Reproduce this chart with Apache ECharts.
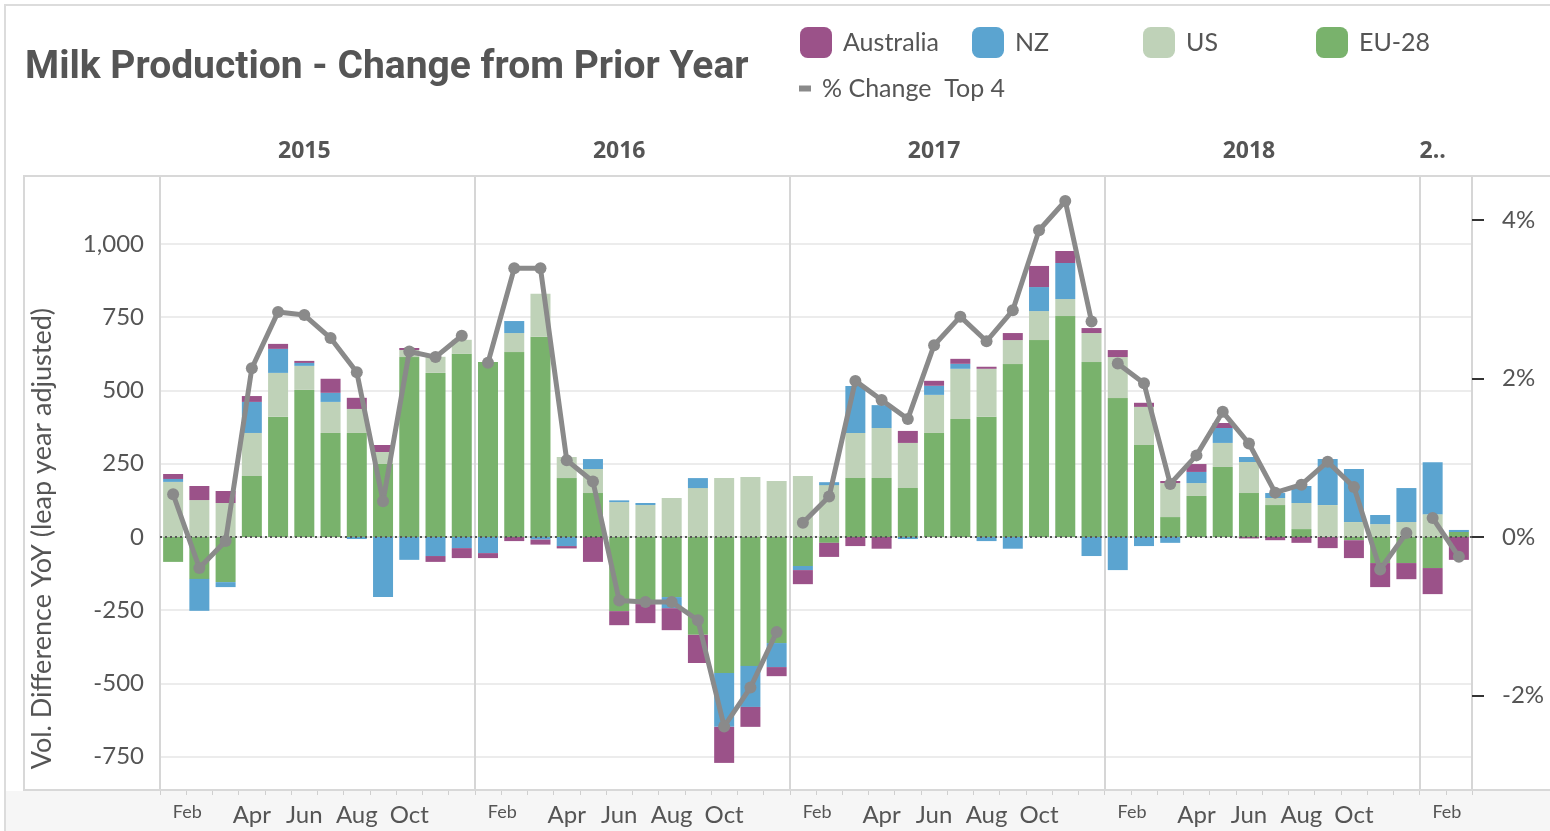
<!DOCTYPE html>
<html>
<head>
<meta charset="utf-8">
<title>Milk Production - Change from Prior Year</title>
<script src="https://cdn.jsdelivr.net/npm/echarts@6/dist/echarts.min.js"></script>
<style>
    html, body { margin: 0; padding: 0; background: #fff; }
    #chart-container { width: 1550px; height: 831px; }
</style>
</head>
<body>
<div id="chart-container"></div>
<script>
// months Jan 2015 .. Feb 2019
const years = ['2015', '2016', '2017', '2018', '2019'];
const monthNames = ['Jan', 'Feb', 'Mar', 'Apr', 'May', 'Jun', 'Jul', 'Aug', 'Sep', 'Oct', 'Nov', 'Dec'];
const categories = [];
years.forEach(y => {
    monthNames.forEach(m => {
        if (y === '2019' && categories.length >= 50) return;
        categories.push(m + ' ' + y);
    });
});
const yearHeaders = ['2015', '2016', '2017', '2018', '2..'];

// volume difference YoY, per region
const eu28 = [
    -85, -143, -154, 208, 410, 502, 355, 355, 249, 614, 560, 625,
    597, 631, 683, 201, 150, -253, -229, -205, -334, -464, -440, -362,
    -99, -20, 201, 201, 167, 355, 403, 410, 590, 672, 754, 597,
    474, 314, 68, 140, 239, 150, 109, 27, 0, -11, -89, -89,
    -106, 17
];
const us = [
    188, 126, 116, 147, 150, 82, 106, 82, 41, 24, 55, 48,
    0, 65, 147, 72, 82, 119, 109, 133, 167, 201, 205, 191,
    208, 177, 154, 171, 154, 130, 171, 164, 82, 99, 58, 99,
    140, 130, 116, 44, 82, 106, 24, 89, 109, 51, 44, 51,
    78, 0
];
const nz = [
    10, -109, -17, 106, 82, 10, 31, -7, -205, -78, -65, -38,
    -55, 41, -9, -31, 34, 6, 7, -38, 34, -184, -140, -82,
    -14, 10, 160, 78, -7, 31, 17, -14, -40, 82, 123, -65,
    -113, -31, -20, 38, 51, 17, 17, 58, 157, 181, 31, 116,
    177, 7
];
const australia = [
    17, 48, 41, 20, 17, 7, 48, 38, 24, 7, -20, -34,
    -17, -14, -17, -8, -85, -48, -65, -75, -96, -123, -68, -31,
    -48, -48, -31, -40, 41, 17, 17, 7, 24, 72, 41, 17,
    24, 14, 7, 27, 17, -5, -11, -20, -38, -61, -82, -55,
    -89, -78
];
// % change of the top 4, right axis
const pctChange = [
    0.54, -0.39, -0.05, 2.13, 2.84, 2.80, 2.51, 2.08, 0.45, 2.34, 2.27, 2.54,
    2.20, 3.39, 3.39, 0.97, 0.70, -0.80, -0.82, -0.82, -1.05, -2.39, -1.90, -1.20,
    0.18, 0.51, 1.97, 1.73, 1.49, 2.42, 2.78, 2.47, 2.86, 3.87, 4.24, 2.72,
    2.19, 1.94, 0.67, 1.03, 1.58, 1.18, 0.56, 0.66, 0.95, 0.63, -0.41, 0.05,
    0.24, -0.25
];

const leftTicks = [-750, -500, -250, 0, 250, 500, 750, 1000];
const rightTicks = [-2, 0, 2, 4];

const colors = {
    'Australia': '#9b5289',
    'NZ': '#5ba4d0',
    'US': '#bfd2b8',
    'EU-28': '#79b26c',
    line: '#8a8a8a'
};
const lineName = '% Change  Top 4';
const textColor = '#555';
const fontFamily = 'Lato, "Open Sans", sans-serif';

const chartContainer = document.getElementById('chart-container');
const myChart = echarts.init(chartContainer);

function barSeries(name, data) {
    return {
        name: name,
        type: 'bar',
        stack: 'vol',
        stackStrategy: 'samesign',
        barWidth: 20,
        data: data,
        itemStyle: { color: colors[name] },
        z: 3
    };
}

// one line per year, the line breaks at each year boundary
const lineSeries = years.map((y, yi) => ({
    name: lineName,
    type: 'line',
    yAxisIndex: 1,
    data: pctChange.map((v, i) => (Math.floor(i / 12) === yi ? v : '-')),
    symbol: 'circle',
    symbolSize: 12,
    lineStyle: { width: 5, color: colors.line },
    itemStyle: { color: colors.line },
    z: 10
}));

function legendAt(name, left, top, icon, w, h) {
    return {
        data: [name],
        left: left,
        top: top,
        padding: 0,
        icon: icon,
        itemWidth: w,
        itemHeight: h,
        selectedMode: false,
        textStyle: { fontSize: 25, color: textColor, fontFamily: fontFamily, padding: [0, 0, 0, 6] }
    };
}

const option = {
    backgroundColor: '#fff',
    animation: false,
    title: {
        text: 'Milk Production - Change from Prior Year',
        left: 20,
        top: 44,
        textStyle: { fontSize: 39, fontWeight: 'bold', color: textColor, fontFamily: 'Roboto, sans-serif' }
    },
    legend: [
        legendAt('Australia', 800, 27, 'roundRect', 32, 31),
        legendAt('NZ', 972, 27, 'roundRect', 32, 31),
        legendAt('US', 1143, 27, 'roundRect', 32, 31),
        legendAt('EU-28', 1316, 27, 'roundRect', 32, 31),
        legendAt(lineName, 799, 76, 'rect', 12, 6)
    ],
    graphic: [
        // outer frame
        { type: 'rect', shape: { x: 5, y: 5, width: 1560, height: 840 }, style: { fill: 'none', stroke: '#dcdcdc', lineWidth: 2 }, z: 0, silent: true },
        // bottom band
        { type: 'rect', shape: { x: 6, y: 791, width: 1560, height: 45 }, style: { fill: '#f6f6f6' }, z: 0, silent: true },
        // pane frame
        { type: 'rect', shape: { x: 24, y: 176, width: 1540, height: 614 }, style: { fill: 'none', stroke: '#d8d8d8', lineWidth: 2 }, z: 1, silent: true },
        {
            type: 'text',
            left: 29,
            top: 308,
            rotation: Math.PI / 2,
            style: {
                text: 'Vol. Difference YoY (leap year adjusted)',
                fontSize: 27,
                fill: textColor,
                fontFamily: fontFamily
            },
            silent: true
        }
    ],
    grid: { left: 160, right: 78, top: 176, bottom: 41, containLabel: false },
    xAxis: [
        {
            type: 'category',
            data: categories,
            position: 'bottom',
            axisLine: { show: true, onZero: false, lineStyle: { color: '#d6d6d6', width: 2 } },
            axisTick: { show: true, interval: 0, length: 5, lineStyle: { color: '#cfcfcf' } },
            axisLabel: {
                interval: (idx) => [1, 3, 5, 7, 9].includes(idx % 12),
                margin: 13,
                fontSize: 24,
                color: textColor,
                fontFamily: fontFamily,
                formatter: function (value, idx) {
                    const m = value.split(' ')[0];
                    if (m === 'Feb') return '{s|Feb}';
                    return m;
                },
                rich: {
                    s: { fontSize: 18, color: textColor, fontFamily: fontFamily, padding: [0, 24, 0, 0] }
                }
            },
            splitLine: {
                show: true,
                interval: (idx) => idx % 12 === 0,
                lineStyle: { color: '#d6d6d6', width: 2 }
            }
        },
        {
            type: 'category',
            data: categories,
            position: 'top',
            axisLine: { show: false },
            axisTick: { show: false },
            splitLine: { show: false },
            axisLabel: {
                interval: 0,
                margin: 13,
                fontSize: 23,
                fontWeight: 'bold',
                color: textColor,
                fontFamily: '"Open Sans", sans-serif',
                formatter: function (value, idx) {
                    if (idx % 12 === 5 && idx < 48) return yearHeaders[Math.floor(idx / 12)];
                    if (idx === 48) return yearHeaders[4];
                    return '';
                }
            }
        }
    ],
    yAxis: [
        {
            type: 'value',
            min: -863.5,
            max: 1232,
            axisLine: { show: false },
            axisTick: { show: false, customValues: leftTicks },
            axisLabel: {
                customValues: leftTicks,
                margin: 16,
                fontSize: 24,
                color: textColor,
                fontFamily: fontFamily,
                formatter: v => v.toLocaleString('en-US')
            },
            splitLine: { show: true, lineStyle: { color: '#ececec', width: 2 } }
        },
        {
            type: 'value',
            position: 'right',
            min: -3.192,
            max: 4.555,
            axisLine: { show: true, lineStyle: { color: '#d6d6d6', width: 2 } },
            axisTick: { show: true, customValues: rightTicks, length: 12, lineStyle: { color: '#333', width: 2 } },
            axisLabel: {
                customValues: rightTicks,
                margin: 30,
                fontSize: 24,
                color: textColor,
                fontFamily: fontFamily,
                formatter: v => v + '%'
            },
            splitLine: { show: false }
        }
    ],
    series: [
        // dotted zero line, below the bars
        {
            name: 'zero',
            type: 'line',
            data: [],
            z: 1,
            markLine: {
                silent: true,
                symbol: 'none',
                label: { show: false },
                lineStyle: { type: [2, 3], color: '#555', width: 2 },
                data: [{ yAxis: 0 }]
            }
        },
        barSeries('EU-28', eu28),
        barSeries('US', us),
        barSeries('NZ', nz),
        barSeries('Australia', australia)
    ].concat(lineSeries)
};

myChart.setOption(option, { notMerge: true });
</script>
</body>
</html>
